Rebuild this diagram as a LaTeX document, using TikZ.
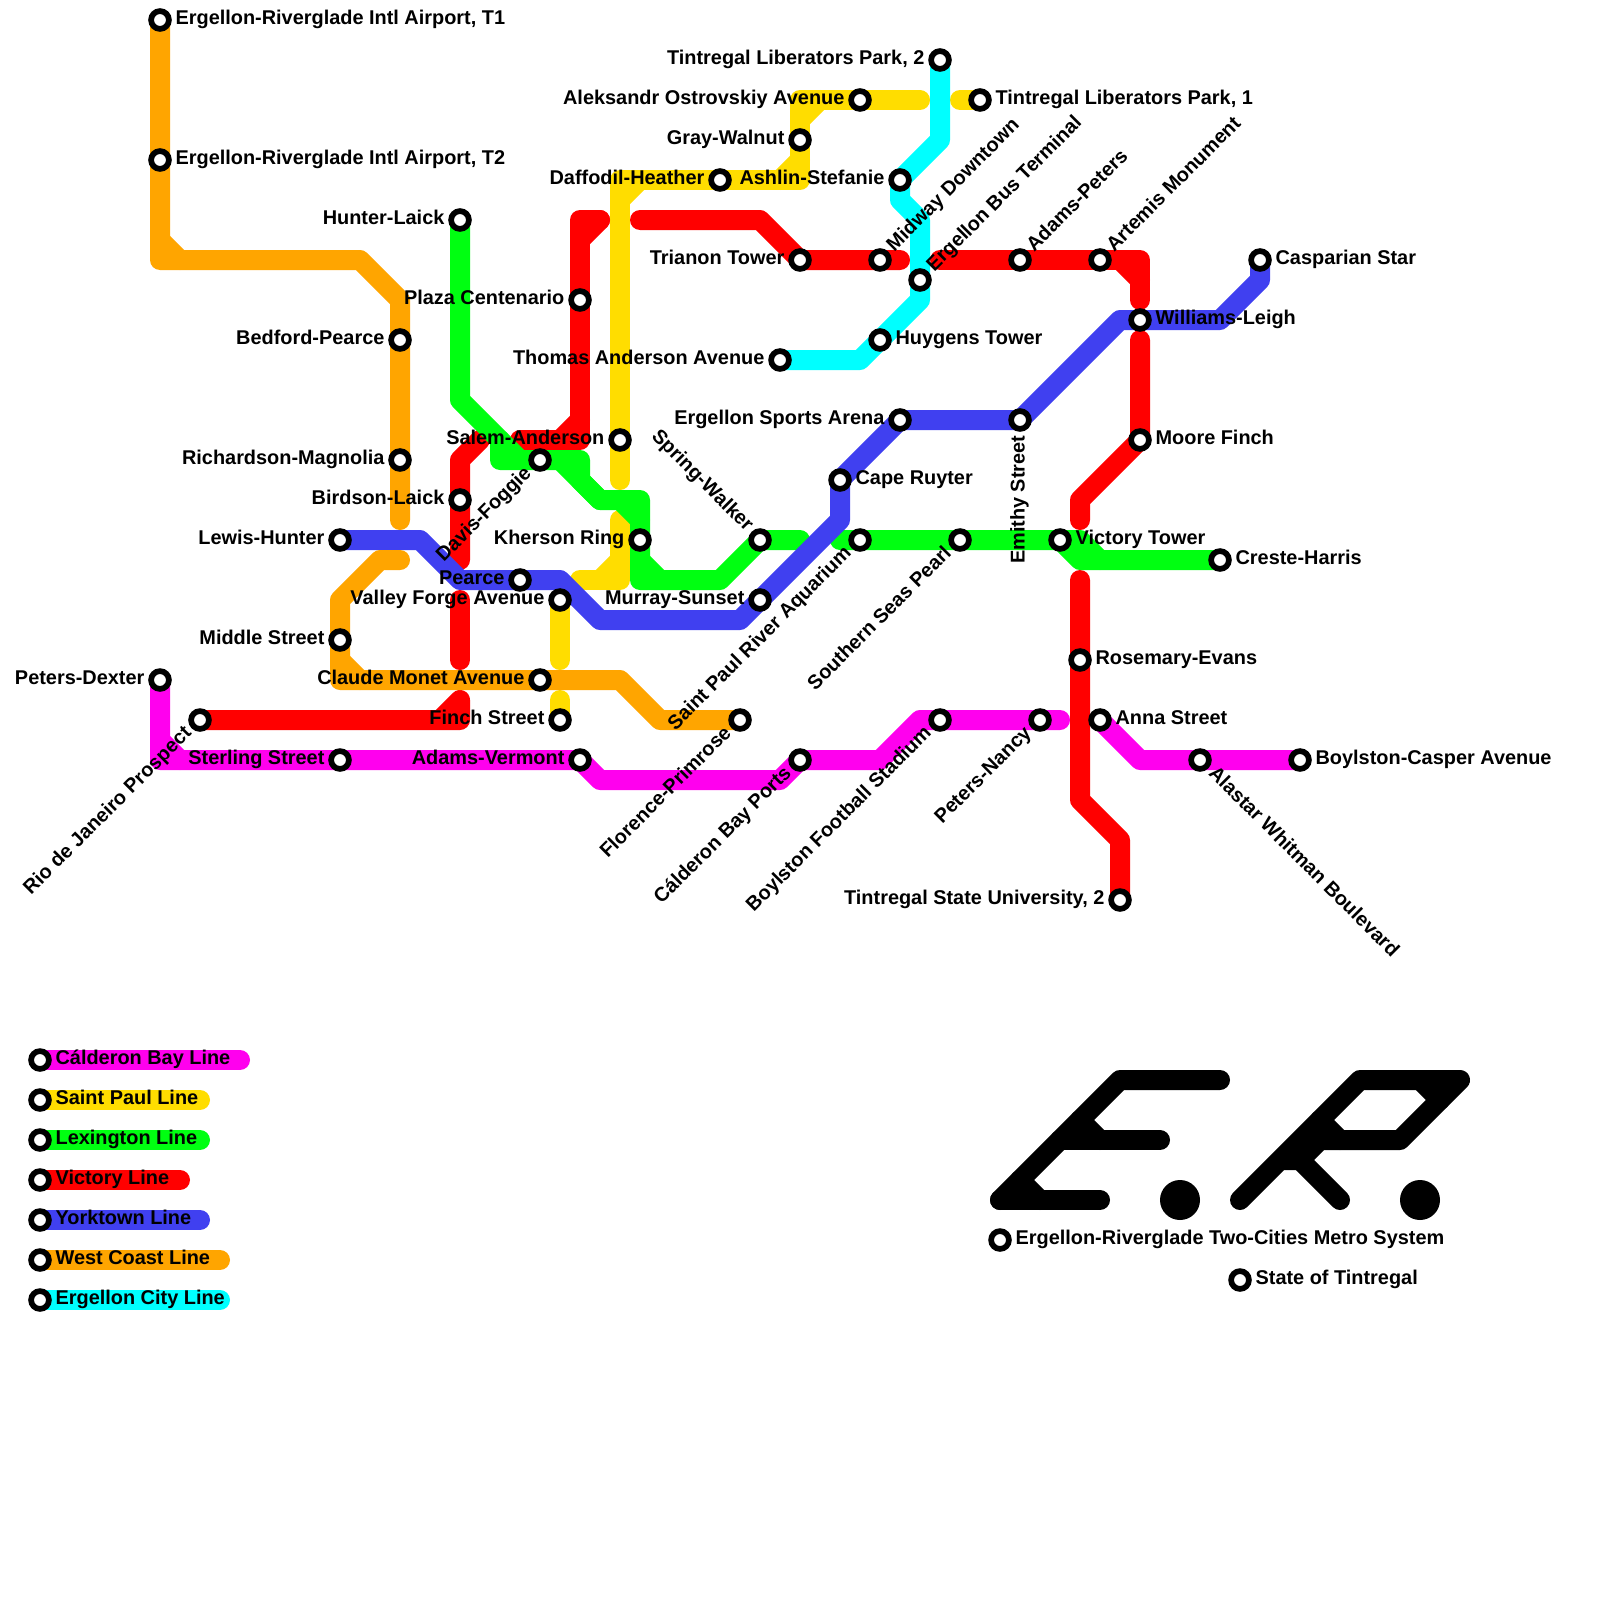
\documentclass[tikz,border=0pt]{standalone}
\usepackage{fontspec}
\setmainfont{Liberation Sans}
\usetikzlibrary{calc}
\pgfdeclarelayer{lines}
\pgfdeclarelayer{labels}
\pgfsetlayers{lines,main,labels}
\definecolor{cMag}{HTML}{FF00EE}
\definecolor{cYel}{HTML}{FFDD00}
\definecolor{cGrn}{HTML}{00FF11}
\definecolor{cRed}{HTML}{FF0000}
\definecolor{cBlu}{HTML}{4040F0}
\definecolor{cOrg}{HTML}{FFA500}
\definecolor{cCya}{HTML}{00FFFF}
\tikzset{
  metroline/.style={line width=10pt,line cap=round,line join=round},
  lnMag/.style={metroline,draw=cMag},
  lnYel/.style={metroline,draw=cYel},
  lnGrn/.style={metroline,draw=cGrn},
  lnRed/.style={metroline,draw=cRed},
  lnBlu/.style={metroline,draw=cBlu},
  lnOrg/.style={metroline,draw=cOrg},
  lnCya/.style={metroline,draw=cCya},
  lnBlk/.style={metroline,draw=black},
  stnring/.style={circle,draw=black,fill=white,line width=2.85pt,minimum size=8.9pt,inner sep=0pt},
  lbl/.style={inner sep=0pt,text=black,font=\bfseries\fontsize{9.95}{12}\selectfont},
}
% station with label after it (reads away from the station)
\newcommand\stnE[5]{%
  \node[stnring] (#1) at (#2,#3) {};
  \begin{pgfonlayer}{labels}
  \node[lbl,rotate=#4,anchor=base west] (#1-label) at ($(#1.center)+(#4:7.6pt)+(#4-90:2.3pt)$) {#5};
  \end{pgfonlayer}}
% station with label before it (reads towards the station)
\newcommand\stnW[5]{%
  \node[stnring] (#1) at (#2,#3) {};
  \begin{pgfonlayer}{labels}
  \node[lbl,rotate=#4,anchor=base east] (#1-label) at ($(#1.center)+(#4+180:7.6pt)+(#4-90:2.3pt)$) {#5};
  \end{pgfonlayer}}
\begin{document}
\begin{tikzpicture}[x=10pt,y=-10pt]
\useasboundingbox (0,0) rectangle (80,80);
% stations
\stnE{AT1}{8}{1}{0}{Ergellon-Riverglade Intl Airport, T1}
\stnE{AT2}{8}{8}{0}{Ergellon-Riverglade Intl Airport, T2}
\stnW{HL}{23}{11}{0}{Hunter-Laick}
\stnW{BP}{20}{17}{0}{Bedford-Pearce}
\stnW{RM}{20}{23}{0}{Richardson-Magnolia}
\stnW{BL}{23}{25}{0}{Birdson-Laick}
\stnW{LH}{17}{27}{0}{Lewis-Hunter}
\stnW{MST}{17}{32}{0}{Middle Street}
\stnW{PD}{8}{34}{0}{Peters-Dexter}
\stnW{RJ}{10}{36}{45}{Rio de Janeiro Prospect}
\stnW{SS}{17}{38}{0}{Sterling Street}
\stnW{AV}{29}{38}{0}{Adams-Vermont}
\stnW{CM}{27}{34}{0}{Claude Monet Avenue}
\stnW{FS}{28}{36}{0}{Finch Street}
\stnW{VF}{28}{30}{0}{Valley Forge Avenue}
\stnW{PE}{26}{29}{0}{Pearce}
\stnW{DF}{27}{23}{45}{Davis-Foggie}
\stnW{SA}{31}{22}{0}{Salem-Anderson}
\stnW{PC}{29}{15}{0}{Plaza Centenario}
\stnW{TA}{39}{18}{0}{Thomas Anderson Avenue}
\stnW{KR}{32}{27}{0}{Kherson Ring}
\stnW{MS}{38}{30}{0}{Murray-Sunset}
\stnW{SW}{38}{27}{-45}{Spring-Walker}
\stnW{SP}{43}{27}{45}{Saint Paul River Aquarium}
\stnW{FP}{37}{36}{45}{Florence-Primrose}
\stnW{CB}{40}{38}{45}{Cálderon Bay Ports}
\stnW{BF}{47}{36}{45}{Boylston Football Stadium}
\stnW{PN}{52}{36}{45}{Peters-Nancy}
\stnW{SE}{48}{27}{45}{Southern Seas Pearl}
\stnW{EM}{51}{21}{90}{Emithy Street}
\stnE{VT}{53}{27}{0}{Victory Tower}
\stnE{CH}{61}{28}{0}{Creste-Harris}
\stnE{RE}{54}{33}{0}{Rosemary-Evans}
\stnE{AS}{55}{36}{0}{Anna Street}
\stnE{AW}{60}{38}{-45}{Alastar Whitman Boulevard}
\stnE{BC}{65}{38}{0}{Boylston-Casper Avenue}
\stnW{TS}{56}{45}{0}{Tintregal State University, 2}
\stnE{MF}{57}{22}{0}{Moore Finch}
\stnE{WL}{57}{16}{0}{Williams-Leigh}
\stnE{CS}{63}{13}{0}{Casparian Star}
\stnE{HT}{44}{17}{0}{Huygens Tower}
\stnE{CR}{42}{24}{0}{Cape Ruyter}
\stnW{ES}{45}{21}{0}{Ergellon Sports Arena}
\stnW{AH}{45}{9}{0}{Ashlin-Stefanie}
\stnW{GW}{40}{7}{0}{Gray-Walnut}
\stnW{DH}{36}{9}{0}{Daffodil-Heather}
\stnW{AO}{43}{5}{0}{Aleksandr Ostrovskiy Avenue}
\stnW{TL}{47}{3}{0}{Tintregal Liberators Park, 2}
\stnE{TP}{49}{5}{0}{Tintregal Liberators Park, 1}
\stnE{MD}{44}{13}{45}{Midway Downtown}
\stnE{EB}{46}{14}{45}{Ergellon Bus Terminal}
\stnE{AP}{51}{13}{45}{Adams-Peters}
\stnE{AM}{55}{13}{45}{Artemis Monument}
\stnW{TT}{40}{13}{0}{Trianon Tower}
% legend stations
\stnE{L1}{2}{53}{0}{Cálderon Bay Line}
\stnE{L2}{2}{55}{0}{Saint Paul Line}
\stnE{L3}{2}{57}{0}{Lexington Line}
\stnE{L4}{2}{59}{0}{Victory Line}
\stnE{L5}{2}{61}{0}{Yorktown Line}
\stnE{L6}{2}{63}{0}{West Coast Line}
\stnE{L7}{2}{65}{0}{Ergellon City Line}
% logo stations
\stnE{LG1}{50}{62}{0}{Ergellon-Riverglade Two-Cities Metro System}
\stnE{LG2}{62}{64}{0}{State of Tintregal}
\begin{pgfonlayer}{lines}
\fill[white] (0,0) rectangle (80,80);
% Calderon Bay Line
\draw[lnMag] (PD.center) -- (8,38) -- (SS.center) -- (AV.center) -- (30,39) -- (39,39) -- (CB.center) -- (44,38) -- (46,36) -- (BF.center) -- (PN.center) -- (53,36);
\draw[lnMag] (8,37) -- (9,38);
\draw[lnMag] (AS.center) -- (57,38) -- (AW.center) -- (BC.center);
% Saint Paul Line
\draw[lnYel] (31,24) -- (SA.center) -- (31,9) -- (DH.center) -- (40,9) -- (GW.center) -- (40,5) -- (AO.center) -- (46,5);
\draw[lnYel] (31,10) -- (32,9);
\draw[lnYel] (39,9) -- (40,8);
\draw[lnYel] (40,6) -- (41,5);
\draw[lnYel] (31,26) -- (31,29) -- (29,29);
\draw[lnYel] (31,28) -- (30,29);
\draw[lnYel] (48,5) -- (TP.center);
\draw[lnYel] (VF.center) -- (28,33);
\draw[lnYel] (28,35) -- (FS.center);
% Victory Line
\draw[lnRed] (RJ.center) -- (23,36) -- (23,35) -- (22,36);
\draw[lnRed] (23,33) -- (23,30);
\draw[lnRed] (23,28) -- (BL.center) -- (23,23) -- (24,22);
\draw[lnRed] (26,22) -- (29,22) -- (PC.center) -- (29,11) -- (30,11);
\draw[lnRed] (28,22) -- (29,21);
\draw[lnRed] (29,12) -- (30,11);
\draw[lnRed] (32,11) -- (38,11) -- (TT.center) -- (MD.center) -- (45,13);
\draw[lnRed] (47,13) -- (AP.center) -- (AM.center) -- (57,13) -- (57,15);
\draw[lnRed] (56,13) -- (57,14);
\draw[lnRed] (57,17) -- (MF.center) -- (54,25) -- (54,26);
\draw[lnRed] (54,29) -- (RE.center) -- (54,40) -- (56,42) -- (TS.center);
% Lexington Line
\draw[lnGrn] (HL.center) -- (23,20) -- (26,23);
\draw[lnGrn] (25,22) -- (25,23) -- (DF.center) -- (29,23) -- (29,24) -- (30,25) -- (32,25) -- (KR.center) -- (32,29) -- (36,29) -- (SW.center) -- (40,27);
\draw[lnGrn] (28,23) -- (30,25);
\draw[lnGrn] (31,25) -- (32,26);
\draw[lnGrn] (32,28) -- (33,29);
\draw[lnGrn] (42,27) -- (SP.center) -- (SE.center) -- (VT.center) -- (54,27) -- (55,28);
\draw[lnGrn] (VT.center) -- (54,28) -- (CH.center);
% Yorktown Line
\draw[lnBlu] (LH.center) -- (21,27) -- (23,29) -- (PE.center) -- (28,29) -- (30,31) -- (37,31) -- (MS.center) -- (42,26) -- (CR.center) -- (ES.center) -- (EM.center) -- (56,16) -- (WL.center) -- (61,16) -- (63,14) -- (CS.center);
% West Coast Line
\draw[lnOrg] (AT1.center) -- (AT2.center) -- (8,13) -- (18,13) -- (20,15) -- (BP.center) -- (RM.center) -- (20,26);
\draw[lnOrg] (8,12) -- (9,13);
\draw[lnOrg] (20,28) -- (19,28) -- (17,30) -- (MST.center) -- (17,34) -- (CM.center) -- (31,34) -- (33,36) -- (FP.center);
\draw[lnOrg] (17,33) -- (18,34);
% Ergellon City Line
\draw[lnCya] (TA.center) -- (43,18) -- (HT.center) -- (46,15) -- (EB.center) -- (46,11) -- (45,10) -- (AH.center) -- (47,7) -- (TL.center);
% legend
\draw[lnMag] (L1.center) -- (12,53);
\draw[lnYel] (L2.center) -- (10,55);
\draw[lnGrn] (L3.center) -- (10,57);
\draw[lnRed] (L4.center) -- (9,59);
\draw[lnBlu] (L5.center) -- (10,61);
\draw[lnOrg] (L6.center) -- (11,63);
\draw[lnCya] (L7.center) -- (11,65);
% logo E
\draw[lnBlk] (50,60) -- (56,54) -- (61,54);
\draw[lnBlk] (53,57) -- (58,57);
\draw[lnBlk] (54,56) -- (55,57);
\draw[lnBlk] (50,60) -- (55,60);
\draw[lnBlk] (51,59) -- (52,60);
\fill[black] (59,60) circle (1);
% logo R
\draw[lnBlk] (62,60) -- (68,54) -- (73,54) -- (70,57) -- (66,57) -- (65,58) -- (64,58);
\draw[lnBlk] (65,58) -- (67,60);
\draw[lnBlk] (66,56) -- (67,57);
\draw[lnBlk] (71,54) -- (72,55);
\fill[black] (71,60) circle (1);
\end{pgfonlayer}
\end{tikzpicture}
\end{document}
